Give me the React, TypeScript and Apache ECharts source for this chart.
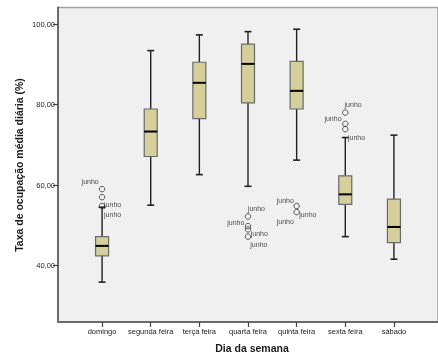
import React, { useEffect, useRef } from "react";
import * as echarts from "echarts";

const days = ["domingo", "segunda feira", "terça feira", "quarta feira", "quinta feira", "sexta feira", "sábado"];
// [min, Q1, median, Q3, max]
const boxStats = [
  [35.9, 42.4, 44.9, 47.2, 54.5],
  [55.0, 67.1, 73.3, 78.9, 93.4],
  [62.6, 76.5, 85.4, 90.5, 97.3],
  [59.7, 80.4, 90.1, 95.0, 98.1],
  [66.2, 78.9, 83.4, 90.7, 98.7],
  [47.2, 55.2, 57.7, 62.3, 71.8],
  [41.6, 45.7, 49.6, 56.5, 72.4],
];
// [day index, value]
const outliers = [
  [0, 59.0], [0, 57.0], [0, 54.8],
  [3, 52.2], [3, 49.8], [3, 49.0], [3, 47.2],
  [4, 54.8], [4, 53.3],
  [5, 78.0], [5, 75.2], [5, 73.9],
];
// case labels "junho": [x, y] in data space (label centre)
const caseLabelText = "junho";
const caseLabels = [
  [-0.245, 60.8], [0.217, 55.1], [0.217, 52.8],
  [3.173, 54.15], [2.749, 50.6], [3.233, 48.0], [3.223, 45.2],
  [3.767, 56.1], [4.231, 52.8], [3.767, 50.9],
  [5.161, 79.9], [4.747, 76.45], [5.231, 71.7],
];
const yTicks = [40, 60, 80, 100];
const xTicks = [0, 1, 2, 3, 4, 5, 6];
const yTitle = "Taxa de ocupação média diária (%)";
const xTitle = "Dia da semana";

const FONT = "Liberation Sans, Arial, sans-serif";

export default function App() {
  const ref = useRef<HTMLDivElement>(null);
  useEffect(() => {
    if (!ref.current) return;
    const chart = echarts.init(ref.current, null, { renderer: "svg" });
    const boxData = boxStats.map((s, i) => [i, ...s]);
    const option: any = {
      animation: false,
      backgroundColor: "#ffffff",
      grid: {
        left: 58,
        top: 7.5,
        right: -8,
        bottom: 34,
        show: true,
        backgroundColor: "#f0f0f0",
        borderColor: "#a0a0a0",
        borderWidth: 1.5,
      },
      xAxis: {
        type: "value",
        min: -0.906,
        max: 6.906,
        splitLine: { show: false },
        axisLine: { show: true, onZero: false, lineStyle: { color: "#6a6a6a", width: 2 } },
        axisTick: { show: true, inside: false, customValues: xTicks, length: 5, lineStyle: { color: "#444444", width: 1.2 } },
        axisLabel: {
          customValues: xTicks,
          formatter: (v: number) => days[Math.round(v)] ?? "",
          fontSize: 7.5,
          fontFamily: FONT,
          color: "#222222",
          margin: 5,
        },
      },
      yAxis: {
        type: "value",
        min: 26,
        max: 104.1,
        splitLine: { show: false },
        axisLine: { show: true, onZero: false, lineStyle: { color: "#6a6a6a", width: 2 } },
        axisTick: { show: true, inside: false, customValues: yTicks, length: 5, lineStyle: { color: "#444444", width: 1.2 } },
        axisLabel: {
          customValues: yTicks,
          formatter: (v: number) => v.toFixed(2).replace(".", ","),
          fontSize: 7.5,
          fontFamily: FONT,
          color: "#222222",
          margin: 3,
        },
      },
      graphic: [
        {
          type: "text",
          x: 19,
          y: 165,
          rotation: Math.PI / 2,
          style: {
            text: yTitle,
            fontSize: 10.5,
            fontWeight: "bold",
            fontFamily: FONT,
            fill: "#1a1a1a",
            align: "center",
            verticalAlign: "middle",
          },
        },
        {
          type: "text",
          x: 252,
          y: 348,
          style: {
            text: xTitle,
            fontSize: 10.5,
            fontWeight: "bold",
            fontFamily: FONT,
            fill: "#1a1a1a",
            align: "center",
            verticalAlign: "middle",
          },
        },
      ],
      series: [
        {
          type: "custom",
          data: boxData,
          renderItem: (params: any, api: any) => {
            const x = api.value(0);
            const mn = api.coord([x, api.value(1)]);
            const q1 = api.coord([x, api.value(2)]);
            const md = api.coord([x, api.value(3)]);
            const q3 = api.coord([x, api.value(4)]);
            const mx = api.coord([x, api.value(5)]);
            const cx = mn[0];
            const hw = 6.5;
            const cw = 3.5;
            const ws = { stroke: "#222222", lineWidth: 1.4 };
            return {
              type: "group",
              children: [
                { type: "line", shape: { x1: cx, y1: q3[1], x2: cx, y2: mx[1] }, style: ws },
                { type: "line", shape: { x1: cx, y1: q1[1], x2: cx, y2: mn[1] }, style: ws },
                { type: "line", shape: { x1: cx - cw, y1: mx[1], x2: cx + cw, y2: mx[1] }, style: { stroke: "#222222", lineWidth: 1.6 } },
                { type: "line", shape: { x1: cx - cw, y1: mn[1], x2: cx + cw, y2: mn[1] }, style: { stroke: "#222222", lineWidth: 1.6 } },
                {
                  type: "rect",
                  shape: { x: cx - hw, y: q3[1], width: hw * 2, height: q1[1] - q3[1] },
                  style: { fill: "#d4cf9b", stroke: "#6a6a6a", lineWidth: 1.2 },
                },
                { type: "line", shape: { x1: cx - hw, y1: md[1], x2: cx + hw, y2: md[1] }, style: { stroke: "#000", lineWidth: 2 } },
              ],
            };
          },
          z: 2,
        },
        {
          type: "scatter",
          data: outliers,
          symbol: "circle",
          symbolSize: 5.5,
          itemStyle: { color: "rgba(240,240,240,0)", borderColor: "#333333", borderWidth: 1 },
          z: 3,
        },
        {
          type: "scatter",
          data: caseLabels,
          symbolSize: 0,
          silent: true,
          itemStyle: { color: "#222222" },
          label: {
            show: true,
            position: "inside",
            formatter: () => caseLabelText,
            fontSize: 7,
            fontFamily: FONT,
            color: "#1a1a1a",
          },
          z: 4,
        },
      ],
    };
    chart.setOption(option);
    return () => chart.dispose();
  }, []);
  return (
    <div style={{ position: "absolute", left: 0, top: 0, width: 438, height: 356, overflow: "hidden", willChange: "transform", opacity: 0.999 }}>
      <div ref={ref} style={{ width: 438, height: 356 }} />
    </div>
  );
}
